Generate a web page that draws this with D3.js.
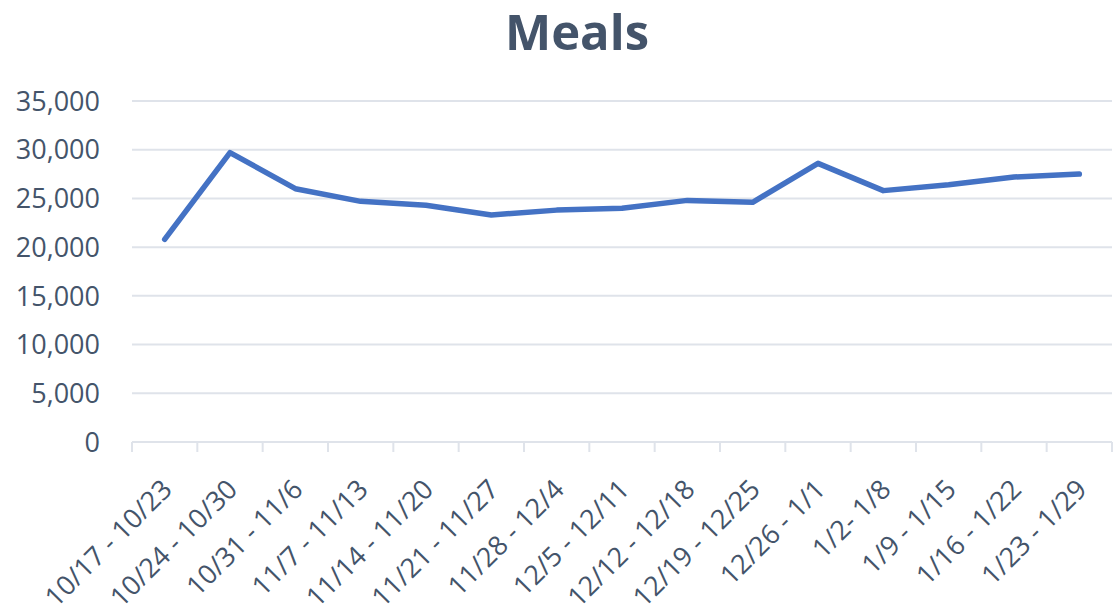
<!DOCTYPE html>
<html>
<head>
<meta charset="utf-8">
<script src="https://cdn.jsdelivr.net/npm/d3@7"></script>
<style>
  body { margin: 0; background: #fff; }
  text { font-family: "Open Sans", sans-serif; fill: #44546A; }
</style>
</head>
<body>
<div id="chart"></div>
<script>
// weekly meals
var weeks = ["10/17 - 10/23", "10/24 - 10/30", "10/31 - 11/6", "11/7 - 11/13", "11/14 - 11/20",
  "11/21 - 11/27", "11/28 - 12/4", "12/5 - 12/11", "12/12 - 12/18", "12/19 - 12/25",
  "12/26 - 1/1", "1/2- 1/8", "1/9 - 1/15", "1/16 - 1/22", "1/23 - 1/29"];
var meals = [20800, 29700, 26000, 24700, 24300, 23300, 23800, 24000, 24800, 24600,
  28600, 25800, 26400, 27200, 27500];
var yTicks = [0, 5000, 10000, 15000, 20000, 25000, 30000, 35000];

var width = 1120, height = 610;
var plotLeft = 132, plotRight = 1112, plotTop = 101, plotBottom = 442;

var svg = d3.select("#chart").append("svg")
    .attr("width", width)
    .attr("height", height);

var x = d3.scaleBand().domain(weeks).range([plotLeft, plotRight]);
var y = d3.scaleLinear().domain([0, 35000]).range([plotBottom, plotTop]);

// gridlines
svg.append("g").selectAll("line")
    .data(yTicks)
    .enter().append("line")
    .attr("x1", plotLeft).attr("x2", plotRight)
    .attr("y1", function(d){ return y(d); })
    .attr("y2", function(d){ return y(d); })
    .style("stroke", "#DFE3EA")
    .style("stroke-width", 2);

// y labels
svg.append("g").selectAll("text")
    .data(yTicks)
    .enter().append("text")
    .attr("x", 100)
    .attr("y", function(d){ return y(d); })
    .attr("dy", "0.36em")
    .attr("text-anchor", "end")
    .style("font-size", "27px")
    .text(function(d){ return d3.format(",")(d); });

// x ticks at band edges
var edges = weeks.map(function(w){ return x(w); }).concat([plotRight]);
svg.append("g").selectAll("line")
    .data(edges)
    .enter().append("line")
    .attr("x1", function(d){ return d; })
    .attr("x2", function(d){ return d; })
    .attr("y1", plotBottom).attr("y2", plotBottom + 10)
    .style("stroke", "#DFE3EA")
    .style("stroke-width", 2);

// x labels
svg.append("g").selectAll("text")
    .data(weeks)
    .enter().append("text")
    .attr("transform", function(d){
        var cx = x(d) + x.bandwidth() / 2 + 9;
        return "translate(" + cx + "," + (plotBottom + 49) + ") rotate(-45)";
    })
    .attr("text-anchor", "end")
    .style("font-size", "27px")
    .text(function(d){ return d; });

// line
var line = d3.line()
    .x(function(d, i){ return x(weeks[i]) + x.bandwidth() / 2; })
    .y(function(d){ return y(d); });

svg.append("path")
    .datum(meals)
    .attr("d", line)
    .style("fill", "none")
    .style("stroke", "#4472C4")
    .style("stroke-width", 5.5)
    .style("stroke-linejoin", "round")
    .style("stroke-linecap", "round");

// title
svg.append("text")
    .attr("x", 577)
    .attr("y", 50)
    .attr("text-anchor", "middle")
    .style("font-size", "49px")
    .style("font-weight", "bold")
    .text("Meals");
</script>
</body>
</html>
